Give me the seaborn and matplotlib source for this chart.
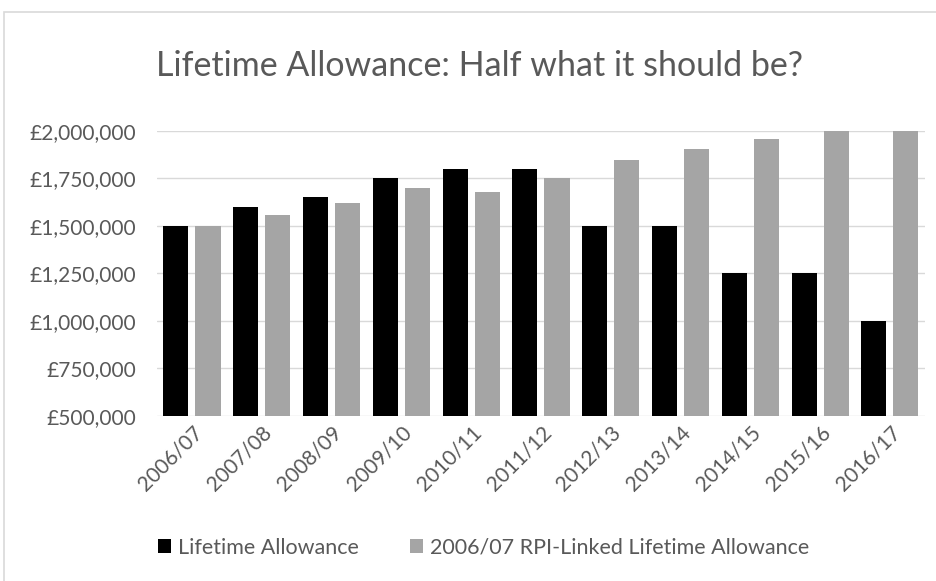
#!/usr/bin/env python3
import pandas as pd
import seaborn as sns
import matplotlib.pyplot as plt
from matplotlib.patches import Rectangle
from matplotlib.ticker import FuncFormatter, MultipleLocator

years = ['2006/07', '2007/08', '2008/09', '2009/10', '2010/11', '2011/12',
         '2012/13', '2013/14', '2014/15', '2015/16', '2016/17']
lta = [1500000, 1600000, 1650000, 1750000, 1800000, 1800000,
       1500000, 1500000, 1250000, 1250000, 1000000]
rpi_linked = [1500000, 1557000, 1618000, 1700000, 1675000, 1750000,
              1847000, 1902000, 1955000, 2010000, 2060000]
series_names = ['Lifetime Allowance', '2006/07 RPI-Linked Lifetime Allowance']

df = pd.DataFrame({
    'year': years * 2,
    'value': lta + rpi_linked,
    'series': [series_names[0]] * len(years) + [series_names[1]] * len(years),
})

sns.set_style('white')
plt.rcParams['font.family'] = ['Lato', 'DejaVu Sans']
text_col = '#595959'

fig = plt.figure(figsize=(9.37, 5.81), dpi=100)
ax = fig.add_axes([0.1676, 0.2845, 0.8194, 0.4905])

sns.barplot(data=df, x='year', y='value', hue='series', ax=ax,
            palette=['#000000', '#a5a5a5'], width=0.92, gap=0.22,
            saturation=1, edgecolor='none', legend=True)

ax.set_ylim(500000, 2000000)
ax.set_xlim(-0.5, len(years) - 0.5)
ax.yaxis.set_major_locator(MultipleLocator(250000))
ax.yaxis.set_major_formatter(FuncFormatter(lambda v, pos: f'£{v:,.0f}'))
ax.grid(axis='y', color='#d9d9d9', linewidth=1)
ax.set_axisbelow(True)
for s in ax.spines.values():
    s.set_visible(False)
ax.set(xlabel=None, ylabel=None)
ax.tick_params(axis='y', labelsize=15, colors=text_col, length=0, pad=15)
ax.tick_params(axis='x', labelsize=15, colors=text_col, length=0, pad=5)
plt.setp(ax.get_xticklabels(), rotation=45, ha='right', rotation_mode='anchor')

ax.get_legend().remove()
handles, labels = ax.get_legend_handles_labels()
fig.legend(handles, labels, loc='center', bbox_to_anchor=(0.516, 0.057), ncol=2,
           frameon=False, fontsize=15.5, labelcolor=text_col,
           handlelength=0.6, handleheight=0.6, handletextpad=0.3, columnspacing=2.4)

fig.suptitle('Lifetime Allowance: Half what it should be?', x=0.512, y=0.887,
             fontsize=24.5, color=text_col, va='center')

# chart frame like the spreadsheet chart area
fig.patches.append(Rectangle((4 / 937, -0.01), 1.0, 1 - 12 / 581 + 0.01,
                             transform=fig.transFigure, fill=False,
                             edgecolor='#d9d9d9', linewidth=1.2))

fig.savefig('out.png', dpi=100)
